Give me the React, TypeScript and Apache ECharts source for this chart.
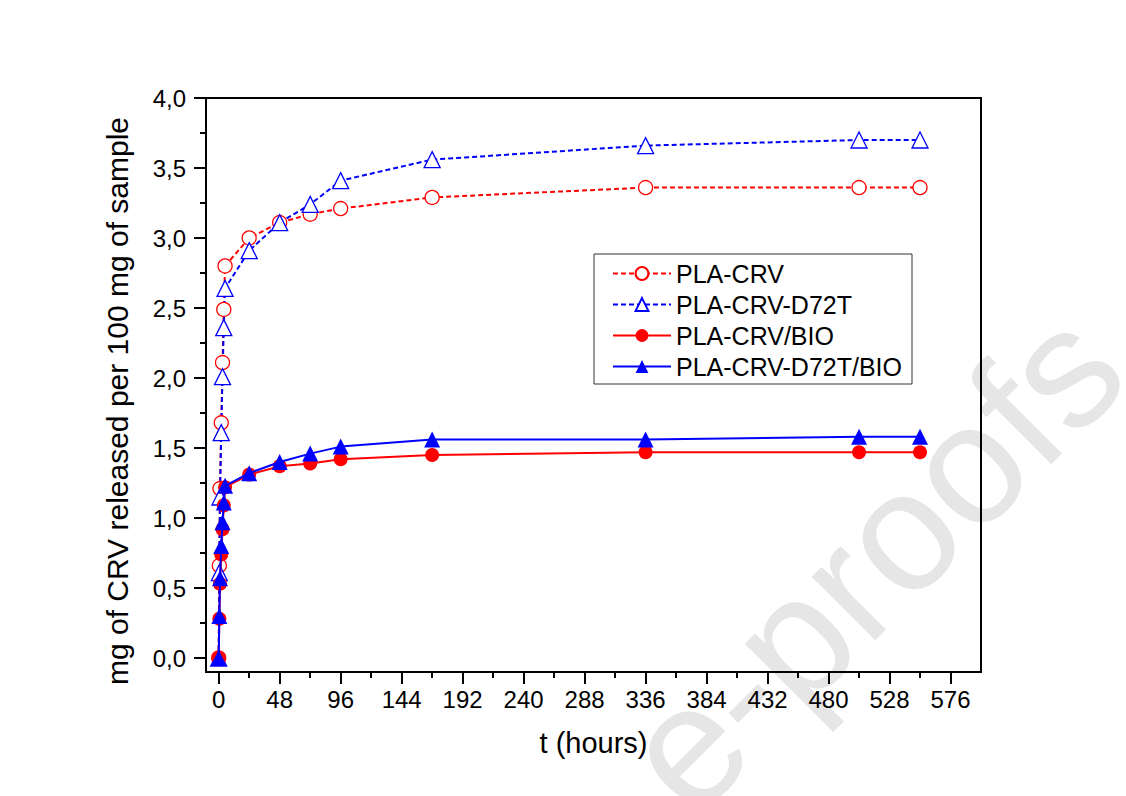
import React, { useEffect, useRef } from "react";
import * as echarts from "echarts";

const hours = [0, 0.5, 1, 2, 3, 4, 5, 24, 48, 72, 96, 168, 336, 504, 552];
const plaCrv = [0, 0.66, 1.21, 1.68, 2.11, 2.49, 2.8, 3.0, 3.11, 3.17, 3.21, 3.29, 3.36, 3.36, 3.36];
const plaCrvD72T = [0, 0.61, 1.15, 1.61, 2.01, 2.36, 2.64, 2.91, 3.11, 3.24, 3.41, 3.56, 3.66, 3.7, 3.7];
const plaCrvBio = [0, 0.28, 0.53, 0.74, 0.92, 1.09, 1.22, 1.31, 1.37, 1.39, 1.42, 1.45, 1.47, 1.47, 1.47];
const plaCrvD72TBio = [0, 0.3, 0.57, 0.8, 0.97, 1.11, 1.23, 1.32, 1.4, 1.46, 1.51, 1.56, 1.56, 1.58, 1.58];

const xMajor = [0, 48, 96, 144, 192, 240, 288, 336, 384, 432, 480, 528, 576];
const xMinor = [24, 72, 120, 168, 216, 264, 312, 360, 408, 456, 504, 552];
const yMajor = [0, 0.5, 1, 1.5, 2, 2.5, 3, 3.5, 4];
const yMinor = [0.25, 0.75, 1.25, 1.75, 2.25, 2.75, 3.25, 3.75];

const FONT = "'Liberation Sans', Arial, Helvetica, sans-serif";
const RED = "#ff0000";
const BLUE = "#0000ff";

const pairs = (ys: number[]) => hours.map((h, i) => [h, ys[i]]);

export default function App() {
  const ref = useRef<HTMLDivElement>(null);
  useEffect(() => {
    if (!ref.current) return;
    const chart = echarts.init(ref.current, null, { renderer: "svg" });
    const axisCommon = {
      type: "value" as const,
      splitLine: { show: false },
    };
    chart.setOption({
      animation: false,
      backgroundColor: "#ffffff",
      textStyle: { fontFamily: FONT },
      grid: {
        left: 206,
        right: 145,
        top: 98,
        bottom: 124,
        show: true,
        borderColor: "#000",
        borderWidth: 2,
        backgroundColor: "transparent",
      },
      graphic: [
        {
          type: "text",
          x: 872,
          y: 560,
          rotation: Math.PI / 4,
          z: -10,
          silent: true,
          style: {
            text: "e-proofs",
            font: `170px ${FONT}`,
            fill: "#e6e6e6",
            align: "center",
            verticalAlign: "middle",
            textAlign: "center",
            textVerticalAlign: "middle",
          },
        },
        {
          type: "text",
          x: 117,
          y: 401,
          rotation: Math.PI / 2,
          silent: true,
          style: {
            text: "mg of CRV released per 100 mg of sample",
            font: `30px ${FONT}`,
            fill: "#000",
            align: "center",
            verticalAlign: "middle",
            textAlign: "center",
            textVerticalAlign: "middle",
          },
        },
      ],
      legend: {
        orient: "vertical",
        left: 594,
        top: 254,
        padding: [7, 10, 5, 18],
        itemGap: 6,
        itemWidth: 58,
        itemHeight: 16,
        borderColor: "#333",
        borderWidth: 1,
        backgroundColor: "#fff",
        textStyle: { fontSize: 25, color: "#000", fontFamily: FONT },
        data: ["PLA-CRV", "PLA-CRV-D72T", "PLA-CRV/BIO", "PLA-CRV-D72T/BIO"],
      },
      xAxis: [
        {
          ...axisCommon,
          min: -10,
          max: 600,
          name: "t (hours)",
          nameLocation: "middle",
          nameGap: 56,
          nameTextStyle: { fontSize: 29, color: "#000", fontFamily: FONT },
          axisLine: { show: true, onZero: false, lineStyle: { color: "#000", width: 2 } },
          axisTick: {
            show: true,
            inside: false,
            length: 12,
            customValues: xMajor,
            lineStyle: { color: "#000", width: 2 },
          },
          axisLabel: {
            show: true,
            customValues: xMajor,
            fontSize: 24,
            color: "#000",
            margin: 15,
            fontFamily: FONT,
          },
        },
        {
          ...axisCommon,
          min: -10,
          max: 600,
          position: "bottom",
          axisLine: { show: false, onZero: false },
          axisLabel: { show: false },
          axisTick: {
            show: true,
            inside: false,
            length: 6,
            customValues: xMinor,
            lineStyle: { color: "#000", width: 2 },
          },
        },
      ],
      yAxis: [
        {
          ...axisCommon,
          min: -0.1,
          max: 4,
          axisLine: { show: true, onZero: false, lineStyle: { color: "#000", width: 2 } },
          axisTick: {
            show: true,
            inside: false,
            length: 12,
            customValues: yMajor,
            lineStyle: { color: "#000", width: 2 },
          },
          axisLabel: {
            show: true,
            customValues: yMajor,
            fontSize: 24,
            color: "#000",
            margin: 20,
            fontFamily: FONT,
            formatter: (v: number) => v.toFixed(1).replace(".", ","),
          },
        },
        {
          ...axisCommon,
          min: -0.1,
          max: 4,
          position: "left",
          axisLine: { show: false, onZero: false },
          axisLabel: { show: false },
          axisTick: {
            show: true,
            inside: false,
            length: 6,
            customValues: yMinor,
            lineStyle: { color: "#000", width: 2 },
          },
        },
      ],
      series: [
        {
          name: "PLA-CRV",
          type: "line",
          data: pairs(plaCrv),
          symbol: "circle",
          symbolSize: 14,
          lineStyle: { color: RED, width: 2, type: [5, 3] },
          itemStyle: { color: "#fff", borderColor: RED, borderWidth: 1.3 },
          z: 3,
        },
        {
          name: "PLA-CRV-D72T",
          type: "line",
          data: pairs(plaCrvD72T),
          symbol: "triangle",
          symbolSize: 16,
          lineStyle: { color: BLUE, width: 2, type: [5, 3] },
          itemStyle: { color: "#fff", borderColor: BLUE, borderWidth: 1.3 },
          z: 3,
        },
        {
          name: "PLA-CRV/BIO",
          type: "line",
          data: pairs(plaCrvBio),
          symbol: "circle",
          symbolSize: 14,
          lineStyle: { color: RED, width: 2 },
          itemStyle: { color: RED, borderColor: RED, borderWidth: 0 },
          z: 4,
        },
        {
          name: "PLA-CRV-D72T/BIO",
          type: "line",
          data: pairs(plaCrvD72TBio),
          symbol: "triangle",
          symbolSize: 16,
          lineStyle: { color: BLUE, width: 2 },
          itemStyle: { color: BLUE, borderColor: BLUE, borderWidth: 0 },
          z: 5,
        },
      ],
    });
    return () => chart.dispose();
  }, []);
  return (
    <div
      ref={ref}
      style={{ position: "fixed", left: 0, top: 0, width: 1126, height: 796, background: "#fff" }}
    />
  );
}
